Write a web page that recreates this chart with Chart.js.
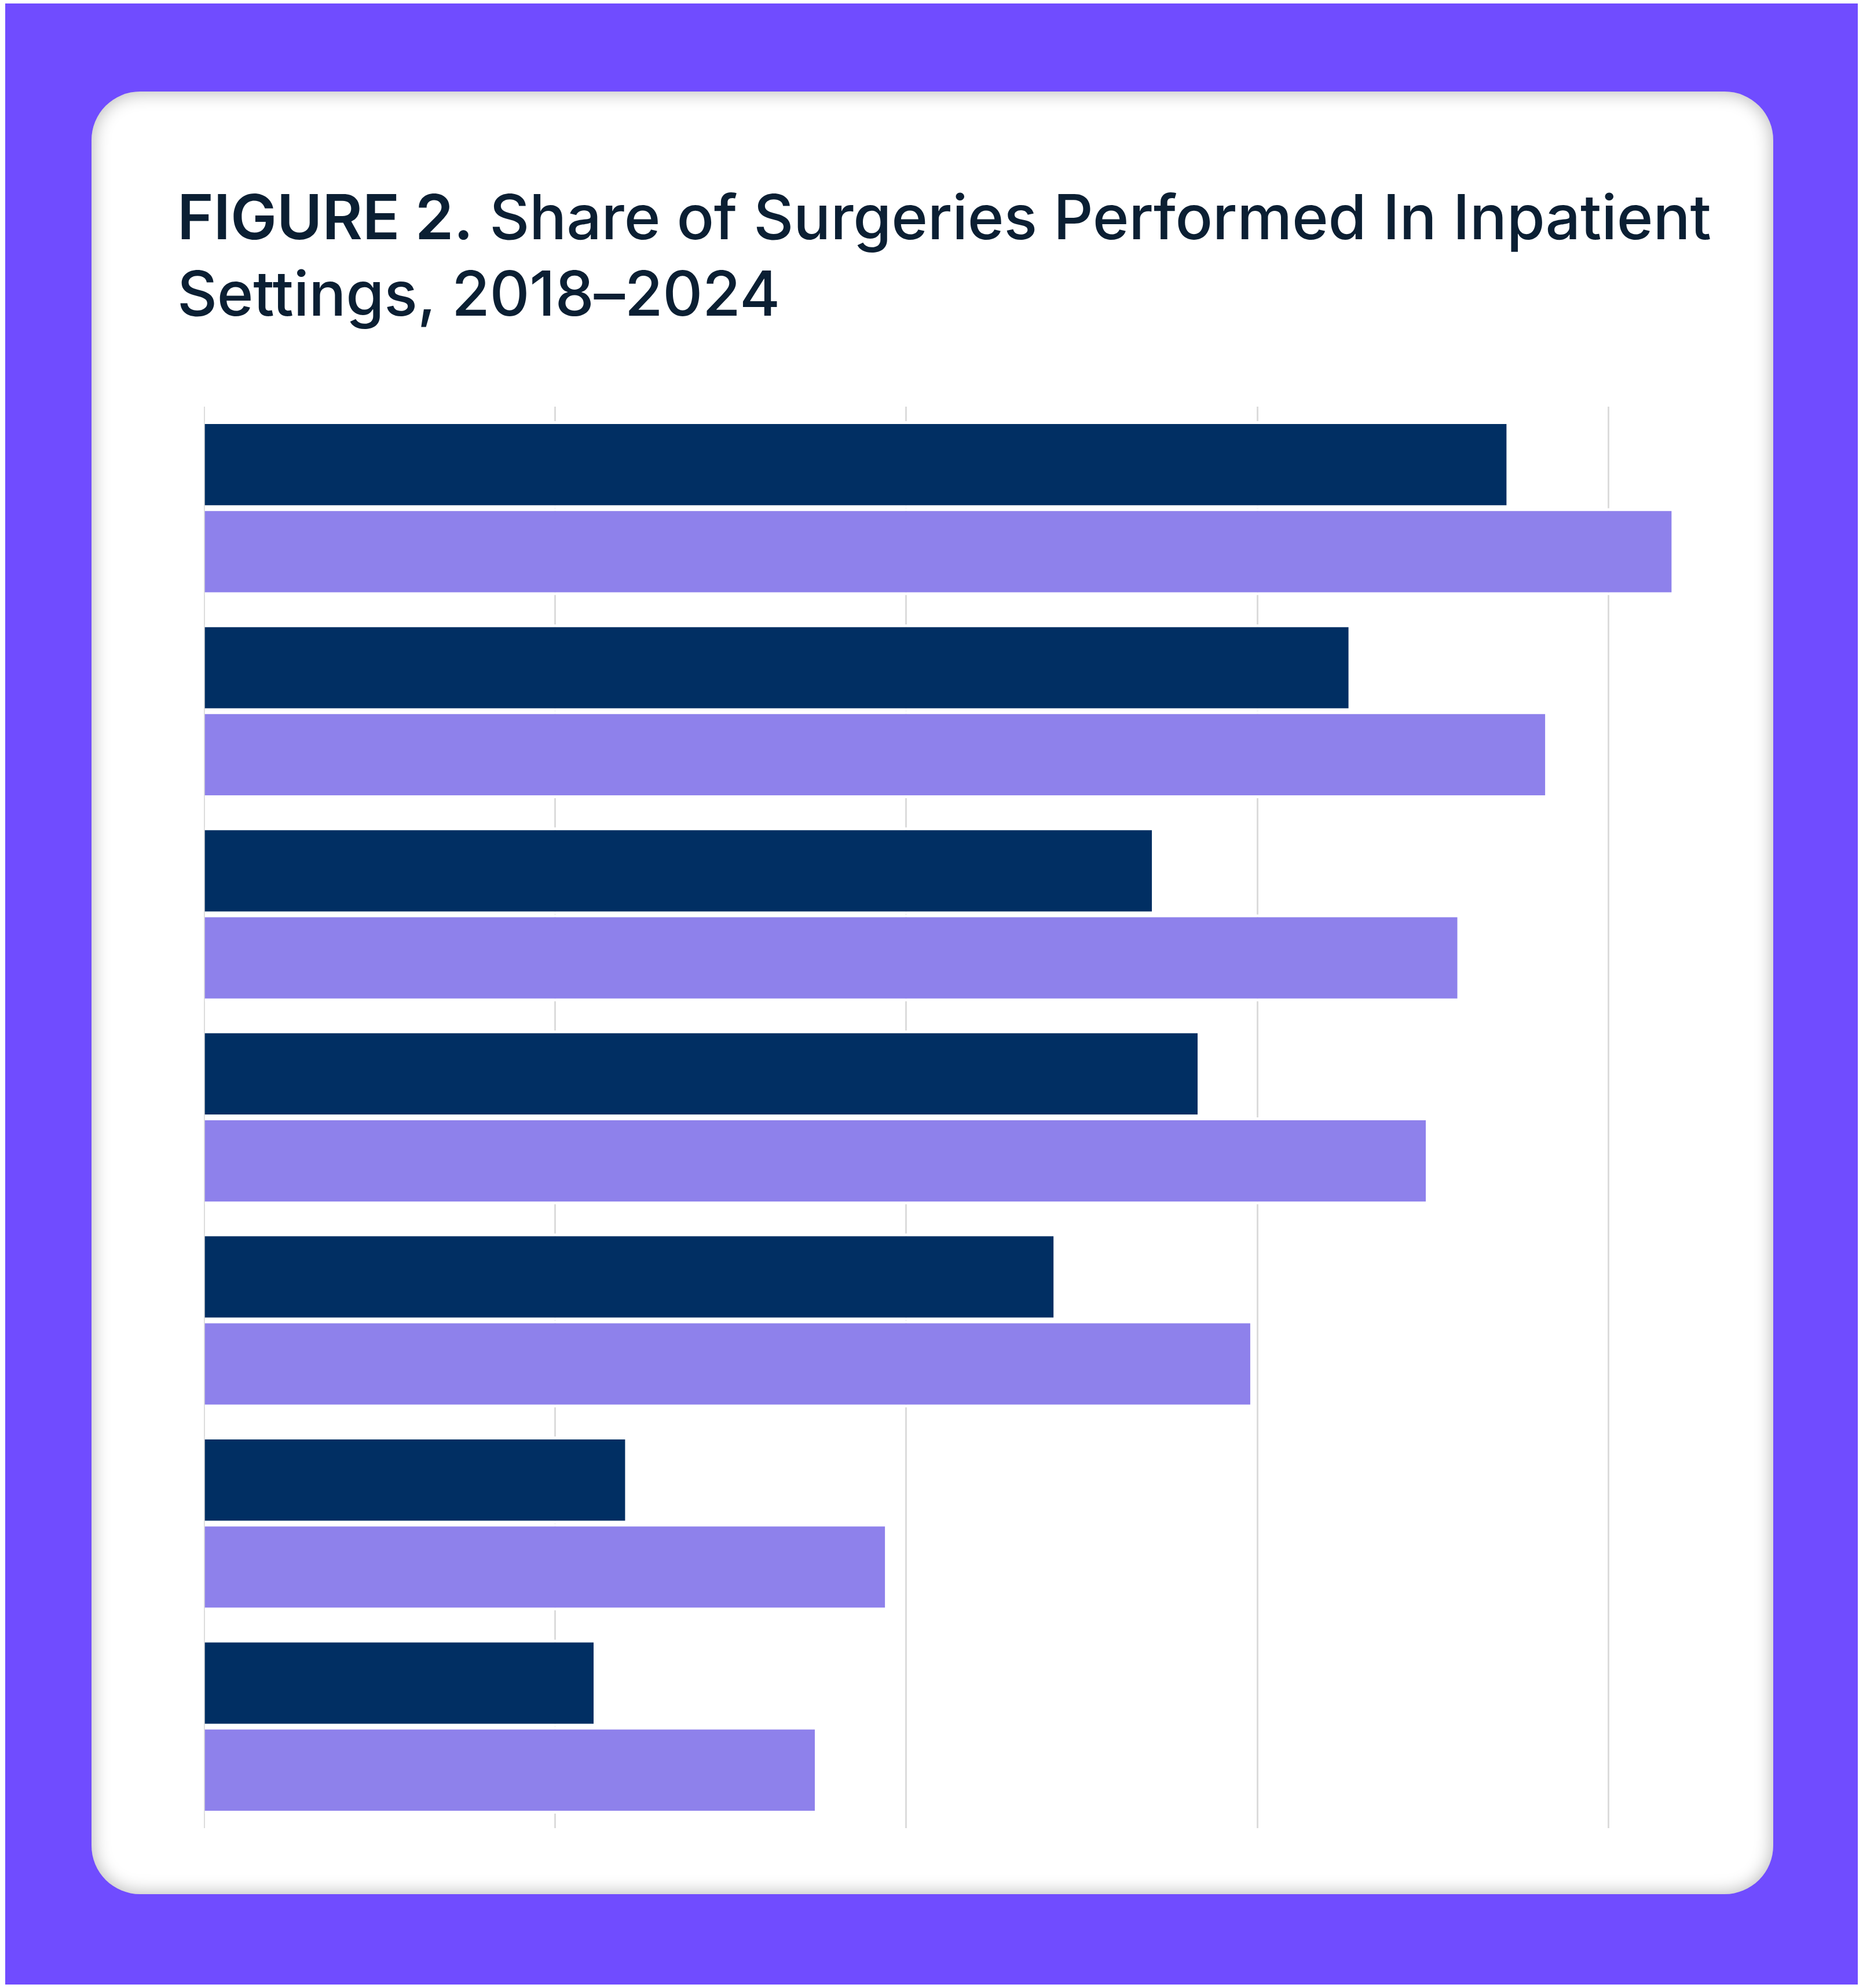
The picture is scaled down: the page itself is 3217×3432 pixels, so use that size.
<!DOCTYPE html>
<html>
<head>
<meta charset="utf-8">
<script src="https://cdn.jsdelivr.net/npm/chart.js@4.4.1/dist/chart.umd.min.js"></script>
<style>
  html, body { margin: 0; padding: 0; background: #ffffff; }
  #page { position: relative; width: 3217px; height: 3432px; background: #ffffff; overflow: hidden; }
  #frame { position: absolute; left: 9px; top: 6px; width: 3199px; height: 3420px; background: #704CFF; }
  #card { position: absolute; left: 158px; top: 158px; width: 2904px; height: 3112px; background: #ffffff;
          border-radius: 84px; box-shadow: inset 0 0 30px 2px rgba(0,0,0,0.28); }
  #title { position: absolute; left: 306px; top: 308px; width: 2790px; font-family: Inter, "Noto Sans", sans-serif;
           font-size: 107px; line-height: 132px; color: #0B1F33; font-weight: 500; letter-spacing: -0.3px; white-space: nowrap; }
  #title b { font-weight: 600; }
  #chartBox { position: absolute; left: 352px; top: 702px; width: 2668px; height: 2454px; }
</style>
</head>
<body>
<div id="page">
  <div id="frame"></div>
  <div id="card"></div>
  <div id="title"><b>FIGURE 2.</b> Share of Surgeries Performed In Inpatient<br>Settings, 2018–2024</div>
  <div id="chartBox"><canvas id="c"></canvas></div>
</div>
<script>
const categories = ["Category 1", "Category 2", "Category 3", "Category 4", "Category 5", "Category 6", "Category 7"];
const seriesNames = ["2024", "2018"];
const darkValues = [37.1, 32.6, 27.0, 28.3, 24.2, 12.0, 11.1];
const lightValues = [41.8, 38.2, 35.7, 34.8, 29.8, 19.4, 17.4];
const gridTicks = [0, 10, 20, 30, 40];
const axisMax = 44;

const ctx = document.getElementById('c');
new Chart(ctx, {
  type: 'bar',
  data: {
    labels: categories,
    datasets: [
      { label: seriesNames[0], data: darkValues, backgroundColor: '#012F63', borderColor: '#ffffff',
        borderWidth: { top: 5, bottom: 5, left: 0, right: 0 }, borderSkipped: false },
      { label: seriesNames[1], data: lightValues, backgroundColor: '#8E81EB', borderColor: '#ffffff',
        borderWidth: { top: 5, bottom: 5, left: 0, right: 0 }, borderSkipped: false }
    ]
  },
  options: {
    indexAxis: 'y',
    responsive: true,
    maintainAspectRatio: false,
    animation: false,
    datasets: { bar: { categoryPercentage: 0.857, barPercentage: 1.0 } },
    layout: { padding: 0 },
    plugins: { legend: { display: false }, tooltip: { enabled: false }, title: { display: false } },
    scales: {
      x: {
        min: 0, max: axisMax,
        afterBuildTicks: (scale) => { scale.ticks = gridTicks.map(v => ({ value: v })); },
        ticks: { display: false },
        border: { display: false },
        grid: { color: '#DCDCDC', lineWidth: 3, drawTicks: false, tickLength: 0 }
      },
      y: { display: false }
    }
  }
});
</script>
</body>
</html>
